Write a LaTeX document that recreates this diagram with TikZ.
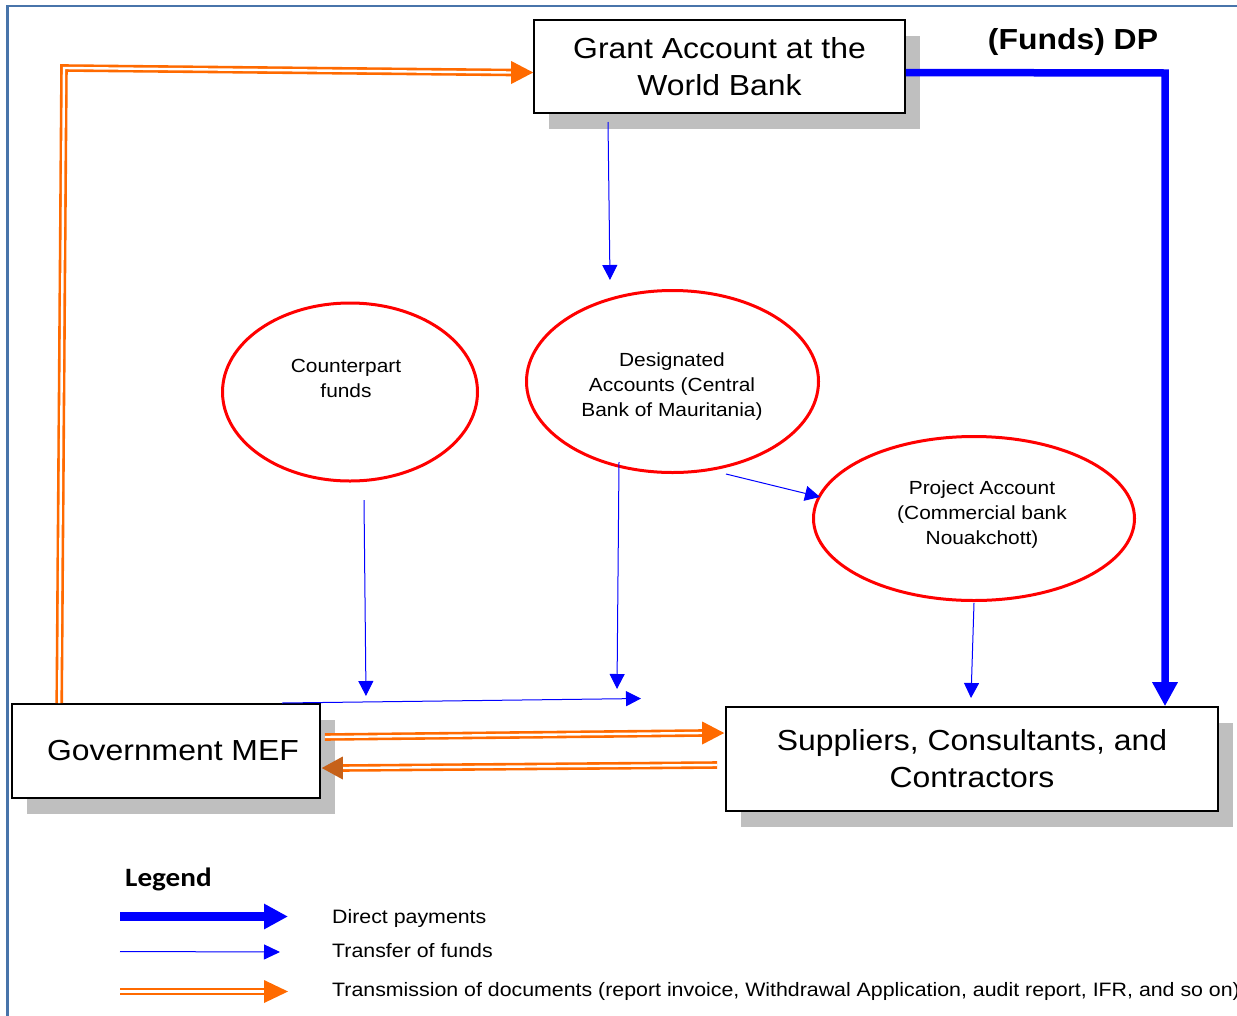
\documentclass[tikz,border=0pt]{standalone}
\usepackage{fontspec}
\setmainfont{Liberation Sans}[FakeStretch=1.1]
\newfontfamily\legfont{Carlito}[FakeStretch=1.1]
\usetikzlibrary{arrows.meta,shapes.geometric,shadows,calc}
\definecolor{frameblue}{RGB}{72,116,170}
\definecolor{docorange}{RGB}{255,106,0}
\definecolor{shadowgray}{RGB}{191,191,191}
\definecolor{fundblue}{RGB}{0,0,255}
\definecolor{ellred}{RGB}{255,0,0}
\begin{document}
\begin{tikzpicture}[x=1pt,y=-1pt,
  box/.style={rectangle, draw=black, line width=1.6pt, fill=white, inner sep=0pt, align=center,
    font=\fontsize{29}{37}\selectfont,
    general shadow={fill=shadowgray, shadow xshift=15pt, shadow yshift=-16pt}},
  ell/.style={ellipse, draw=ellred, line width=3pt, inner sep=0pt},
  elltext/.style={align=center, inner sep=0pt, font=\fontsize{19}{25}\selectfont},
  direct/.style={draw=fundblue, line width=7.5pt, line join=miter, -{Triangle[length=24pt,width=24pt]}},
  fund/.style={draw=fundblue, line width=1pt, -{Triangle[length=15pt,width=15pt]}},
  docline/.style={draw=docorange, double=white, line width=2.6pt, double distance=2.4pt, line join=miter},
  legtext/.style={anchor=base west, inner sep=0pt, font=\fontsize{19.4}{23}\selectfont}
]
\useasboundingbox (0,0) rectangle (1237,1015);
\fill[white] (0,0) rectangle (1237,1015);
% frame
\draw[frameblue, line width=2.5pt] (7.5,1300) -- (7.5,6) -- (1400,6);

% boxes
\node[box, minimum width=371pt, minimum height=93pt] (grant) at (719.5,66.5) {Grant Account at the\\World Bank};
\node[box, minimum width=308pt, minimum height=94pt] (gov) at (166,751) {\hspace*{14pt}Government MEF};
\node[box, minimum width=492pt, minimum height=104pt] (supp) at (972,759) {Suppliers, Consultants, and\\Contractors};

% ellipses
\node[ell, minimum width=255pt, minimum height=178pt] (cpf) at (350,392) {};
\node[elltext] (cpft) at (346,378.5) {Counterpart\\funds};
\node[ell, minimum width=292pt, minimum height=182pt] (des) at (672.5,381.5) {};
\node[elltext] (dest) at (672,387) {Designated\\Accounts (Central\\Bank of Mauritania)};
\node[ell, minimum width=321pt, minimum height=164pt] (proj) at (974,518.5) {};
\node[elltext] (projt) at (982,514.5) {Project Account\\(Commercial bank\\Nouakchott)};

% title
\node[anchor=base, inner sep=0pt, font=\fontsize{29}{35}\selectfont\bfseries] (dp) at (1073,49) {(Funds) DP};

% direct payment
\coordinate (dpc) at (1165,73);
\draw[direct] ($(grant.east)+(0,6)$) -- (dpc) -- (dpc |- supp.north);

% transfers of funds
\coordinate (t1s) at (608,122); \coordinate (t1e) at (610,280);
\coordinate (t2s) at (364,500); \coordinate (t2e) at (366,696);
\coordinate (t3s) at (619,462); \coordinate (t3e) at (617,689);
\coordinate (t4s) at (282,703); \coordinate (t4e) at (641,698.5);
\coordinate (t5s) at (726,474); \coordinate (t5e) at (820,497);
\coordinate (t6s) at (974,603); \coordinate (t6e) at (971,698);
\draw[fund] (t1s) -- (t1e);
\draw[fund] (t2s) -- (t2e);
\draw[fund] (t3s) -- (t3e);
\draw[fund] (t4s) -- (t4e);
\draw[fund] (t5s) -- (t5e);
\draw[fund] (t6s) -- (t6e);

% documents: MEF -> grant
\coordinate (g1) at (64,68);
\draw[docline] ($(gov.north west)+(48,0)$) -- (g1) -- ($(grant.west)+(-22,6)$);
\fill[docorange] ($(grant.west)+(0,6)$) -- ++(-22,-11.5) -- ++(0,23) -- cycle;
% MEF -> suppliers
\draw[docline] ($(gov.east)+(4,-14)$) -- ($(supp.west)+(-23,-26)$);
\fill[docorange] ($(supp.west)+(-1,-26)$) -- ++(-22,-11.5) -- ++(0,23) -- cycle;
% suppliers -> MEF
\draw[docline] ($(supp.west)+(-8,6)$) -- ($(gov.east)+(21,17)$);
\fill[docorange!75!black!90] ($(gov.east)+(1,17)$) -- ++(21,-11.5) -- ++(0,23) -- cycle;

% legend
\node[anchor=base west, inner sep=0pt, font=\legfont\fontsize{26.5}{30}\selectfont\bfseries] (leg) at (125,886) {Legend};
\coordinate (l1s) at (120,916.5); \coordinate (l1e) at (288,916.5);
\draw[direct, line width=8.5pt] (l1s) -- (l1e);
\coordinate (l2s) at (120,951.5); \coordinate (l2e) at (280,952);
\draw[fund, -{Triangle[length=16pt,width=15pt]}] (l2s) -- (l2e);
\coordinate (l3s) at (120,991.5); \coordinate (l3e) at (288,991.5);
\draw[docline] (l3s) -- ($(l3e)+(-23,0)$);
\fill[docorange] (l3e) -- ++(-24,-11.5) -- ++(0,23) -- cycle;
\node[legtext] (lt1) at (332,923) {Direct payments};
\node[legtext] (lt2) at (332,957) {Transfer of funds};
\node[legtext] (lt3) at (332,996) {Transmission of documents (report invoice, Withdrawal Application, audit report, IFR, and so on)};
\end{tikzpicture}
\end{document}
